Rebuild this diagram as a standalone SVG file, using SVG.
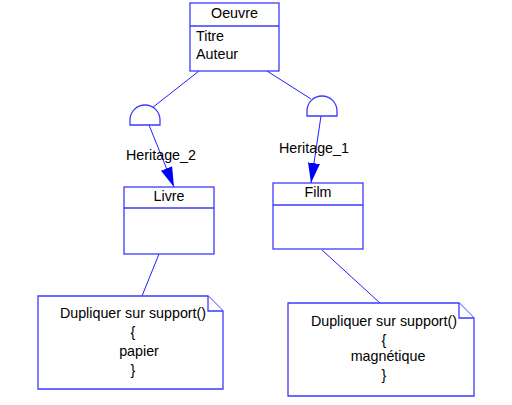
<svg xmlns="http://www.w3.org/2000/svg" width="512" height="405" viewBox="0 0 512 405">
<defs>
<style>
.box{fill:#fff;stroke:#3a3aff;stroke-width:1.3}
.ln{stroke:#2020ff;stroke-width:1;fill:none}
.t{font-family:"Liberation Sans",Arial,sans-serif;font-size:14.3px;fill:#000}
.c{text-anchor:middle}
</style>
<marker id="ah" markerWidth="20" markerHeight="12" refX="20" refY="6" orient="auto" markerUnits="userSpaceOnUse">
<path d="M0,0 L20,6 L0,12 Z" fill="#0000ff"/>
</marker>
</defs>
<rect width="512" height="405" fill="#fff"/>
<g id="connectors">
<line class="ln" x1="199" y1="71" x2="152" y2="108"/>
<line class="ln" x1="267" y1="71" x2="311" y2="99"/>
<line class="ln" x1="149" y1="125" x2="174" y2="187" marker-end="url(#ah)"/>
<line class="ln" x1="321" y1="116" x2="311" y2="183" marker-end="url(#ah)"/>
<line class="ln" x1="159" y1="254" x2="142" y2="296"/>
<line class="ln" x1="322" y1="250" x2="380" y2="303" stroke="#1a1aa0"/>
<path class="box" d="M130,125 L130,120 A15,15 0 0 1 160,120 L160,125 Z"/>
<path class="box" d="M307,116 L307,111 A15,15 0 0 1 337,111 L337,116 Z"/>
<text class="t" x="126" y="160">Heritage_2</text>
<text class="t" x="279" y="153">Heritage_1</text>
</g>
<g id="oeuvre">
<rect class="box" x="190" y="3" width="89" height="68"/>
<line class="box" x1="190" y1="26" x2="279" y2="26"/>
<text class="t c" x="234.5" y="18">Oeuvre</text>
<text class="t" x="196" y="41">Titre</text>
<text class="t" x="196" y="59">Auteur</text>
</g>
<g id="livre">
<rect class="box" x="124" y="187" width="90" height="67"/>
<line class="box" x1="124" y1="208" x2="214" y2="208"/>
<text class="t c" x="169" y="201">Livre</text>
</g>
<g id="film">
<rect class="box" x="273" y="183" width="90" height="66"/>
<line class="box" x1="273" y1="205" x2="363" y2="205"/>
<text class="t c" x="318" y="197">Film</text>
</g>
<g id="note1">
<path class="box" d="M38,296 L208,296 L223,311 L223,389 L38,389 Z"/>
<path class="box" d="M208,296 L208,311 L223,311" fill="none"/>
<text class="t c" x="133" y="318">Dupliquer sur support()</text>
<text class="t c" x="133" y="337">{</text>
<text class="t c" x="139" y="356">papier</text>
<text class="t c" x="133" y="375">}</text>
</g>
<g id="note2">
<path class="box" d="M288,303 L459,303 L474,318 L474,396 L288,396 Z"/>
<path class="box" d="M459,303 L459,318 L474,318" fill="none"/>
<text class="t c" x="384" y="326">Dupliquer sur support()</text>
<text class="t c" x="384" y="345">{</text>
<text class="t c" x="388" y="361">magnétique</text>
<text class="t c" x="384" y="380">}</text>
</g>
</svg>
